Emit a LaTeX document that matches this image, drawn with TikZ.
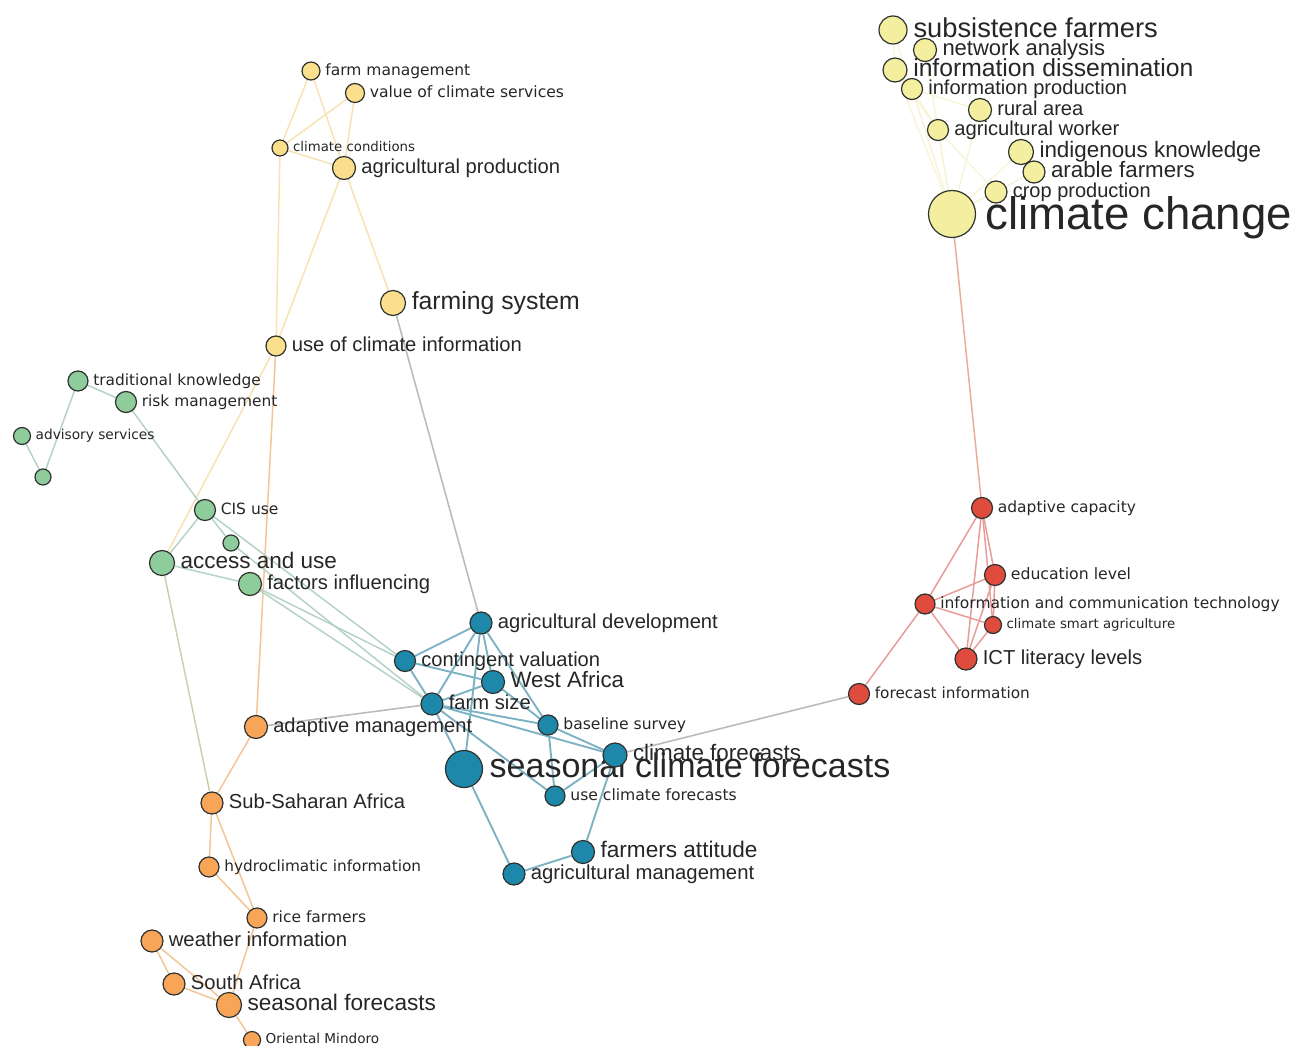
\documentclass[tikz,border=0pt]{standalone}
\usepackage{fontspec}
\setmainfont{Liberation Sans}
\newfontfamily\dvs{DejaVu Sans}
\usetikzlibrary{backgrounds}
\definecolor{cYel}{HTML}{F4EF9E}
\definecolor{cLy}{HTML}{FCDF8C}
\definecolor{cGr}{HTML}{8FCC9B}
\definecolor{cBl}{HTML}{1D88AA}
\definecolor{cOr}{HTML}{F8A557}
\definecolor{cRd}{HTML}{DF4B3D}
\definecolor{cStroke}{HTML}{2E3330}
\definecolor{cText}{HTML}{262626}
\definecolor{ecYel}{HTML}{F7F4D8}
\definecolor{ecLy}{HTML}{F8E2B4}
\definecolor{ecGr}{HTML}{B5D2C5}
\definecolor{ecBl}{HTML}{7DB2C4}
\definecolor{ecOr}{HTML}{F3C597}
\definecolor{ecRd}{HTML}{E79C98}
\definecolor{ecGrey}{HTML}{B9BDBD}
\definecolor{ecCC}{HTML}{E8AE98}
\definecolor{ecAS}{HTML}{D2CCB0}
\tikzset{
  kwnode/.style={circle, draw=cStroke, line width=1.2pt, inner sep=0pt},
  lbl/.style={anchor=west, inner sep=0pt, text=cText},
  eYel/.style={draw=ecYel, line width=1.4pt},
  eLy/.style={draw=ecLy, line width=1.5pt},
  eGr/.style={draw=ecGr, line width=1.5pt},
  eBl/.style={draw=ecBl, line width=1.9pt},
  eOr/.style={draw=ecOr, line width=1.5pt},
  eRd/.style={draw=ecRd, line width=1.5pt},
  eGrey/.style={draw=ecGrey, line width=1.6pt},
  eCC/.style={draw=ecCC, line width=1.5pt},
  eAS/.style={draw=ecAS, line width=1.5pt},
}
% #1 name, #2 fill, #3 x, #4 y, #5 radius, #6 family, #7 size, #8 text
\newcommand\kw[8]{%
  \node[kwnode, fill=#2, minimum size=#5*2pt] (#1) at (#3,#4) {};
  \node[lbl, font=#6\fontsize{#7pt}{#7pt}\selectfont] (#1-l) at ([xshift=3pt+#7*0.1pt]#1.east) {\vphantom{bp}#8};
}
\begin{document}
\begin{tikzpicture}[x=1pt,y=-1pt]
\useasboundingbox (0,0) rectangle (1296,1046);
% ---------- yellow cluster (top right)
\kw{sf}{cYel}{893}{30}{14}{}{27.3}{subsistence farmers}
\kw{na}{cYel}{925}{50}{11.5}{}{22}{network analysis}
\kw{id}{cYel}{895}{70}{12}{}{24.7}{information dissemination}
\kw{ip}{cYel}{912}{89}{10.5}{}{20.1}{information production}
\kw{ra}{cYel}{980}{110}{11.5}{}{20.1}{rural area}
\kw{aw}{cYel}{938}{130}{10.5}{}{20.2}{agricultural worker}
\kw{ik}{cYel}{1021}{152}{12.5}{}{22.4}{indigenous knowledge}
\kw{af}{cYel}{1034}{172}{11}{}{22.3}{arable farmers}
\kw{cp}{cYel}{996}{192}{11}{}{20}{crop production}
\node[kwnode, fill=cYel, minimum size=47pt] (cc) at (952,214) {};
\node[lbl, font=\fontsize{45.6pt}{45.6pt}\selectfont] (cc-l) at ([xshift=9pt,yshift=-4pt]cc.east) {\vphantom{bp}climate change};
% ---------- light yellow cluster
\kw{fm}{cLy}{311}{71}{9}{\dvs}{15.5}{farm management}
\kw{vcs}{cLy}{355}{93}{9.5}{\dvs}{15.6}{value of climate services}
\kw{ccd}{cLy}{280}{148}{8}{\dvs}{13.3}{climate conditions}
\kw{ap}{cLy}{344}{168}{11.5}{}{20.2}{agricultural production}
\kw{fs}{cLy}{393}{303}{12.5}{}{24.8}{farming system}
\kw{uci}{cLy}{276}{346}{10}{}{20.2}{use of climate information}
% ---------- green cluster
\kw{tk}{cGr}{78}{381}{10}{\dvs}{15.4}{traditional knowledge}
\kw{rm}{cGr}{126}{402}{10.5}{\dvs}{15.4}{risk management}
\kw{as}{cGr}{22}{436}{8.5}{\dvs}{13.7}{advisory services}
\node[kwnode, fill=cGr, minimum size=16pt] (g1) at (43,477) {};
\kw{cis}{cGr}{205}{510}{10.5}{\dvs}{15.5}{CIS use}
\node[kwnode, fill=cGr, minimum size=16pt] (g2) at (231,543) {};
\kw{au}{cGr}{162}{563}{12.5}{}{22.5}{access and use}
\kw{fi}{cGr}{250}{584}{11.5}{}{20.2}{factors influencing}
% ---------- blue cluster
\kw{ad}{cBl}{481}{623}{11}{}{20.2}{agricultural development}
\kw{cv}{cBl}{405}{661}{10.5}{}{20.1}{contingent valuation}
\kw{wa}{cBl}{493}{682}{11.5}{}{22.3}{West Africa}
\kw{fz}{cBl}{432}{704}{11}{}{20.2}{farm size}
\kw{bs}{cBl}{548}{725}{10}{\dvs}{15.6}{baseline survey}
\kw{scf}{cBl}{464}{769}{18.5}{}{34}{seasonal climate forecasts}
\kw{cf}{cBl}{615}{755}{12}{}{22.4}{climate forecasts}
\kw{ucf}{cBl}{555}{796}{10}{\dvs}{15.6}{use climate forecasts}
\kw{fa}{cBl}{583}{852}{11.5}{}{22.6}{farmers attitude}
\kw{am}{cBl}{514}{874}{11}{}{20.3}{agricultural management}
% ---------- orange cluster
\kw{adm}{cOr}{256}{727}{11.5}{}{20.1}{adaptive management}
\kw{ssa}{cOr}{212}{803}{11}{}{20.2}{Sub-Saharan Africa}
\kw{hi}{cOr}{209}{867}{10}{\dvs}{15.3}{hydroclimatic information}
\kw{rf}{cOr}{257}{918}{10}{\dvs}{15.5}{rice farmers}
\kw{wi}{cOr}{152}{941}{11}{}{20.3}{weather information}
\kw{sa}{cOr}{174}{984}{11}{}{20.2}{South Africa}
\kw{sfc}{cOr}{229}{1005}{12.5}{}{22.6}{seasonal forecasts}
\kw{om}{cOr}{252}{1040}{8.5}{\dvs}{13.6}{Oriental Mindoro}
% ---------- red cluster
\kw{ac}{cRd}{982}{508}{10.5}{\dvs}{15.5}{adaptive capacity}
\kw{el}{cRd}{995}{575}{10.5}{\dvs}{15.7}{education level}
\kw{ict}{cRd}{925}{604}{10}{\dvs}{15.5}{information and communication technology}
\kw{csa}{cRd}{993}{625}{8.5}{\dvs}{13.3}{climate smart agriculture}
\kw{il}{cRd}{966}{659}{11}{}{20.2}{ICT literacy levels}
\kw{fci}{cRd}{859}{694}{10.5}{\dvs}{15.3}{forecast information}
% ---------- edges
\begin{scope}[on background layer]
% yellow
\draw[eYel] (sf) -- (id);
\draw[eYel] (sf) -- (cc);
\draw[eYel] (na) -- (cc);
\draw[eYel] (id) -- (cc);
\draw[eYel] (id) -- (aw);
\draw[eYel] (ip) -- (cc);
\draw[eYel] (ip) -- (aw);
\draw[eYel] (ip) -- (ra);
\draw[eYel] (ra) -- (cc);
\draw[eYel] (aw) -- (cc);
\draw[eYel] (aw) -- (cp);
\draw[eYel] (ik) -- (cc);
\draw[eYel] (ik) -- (af);
\draw[eYel] (af) -- (cc);
\draw[eYel] (cp) -- (cc);
\draw[eCC] (cc) -- (ac);
% light yellow
\draw[eLy] (fm) -- (ccd);
\draw[eLy] (fm) -- (ap);
\draw[eLy] (vcs) -- (ccd);
\draw[eLy] (vcs) -- (ap);
\draw[eLy] (ccd) -- (ap);
\draw[eLy] (ccd) -- (uci);
\draw[eLy] (ap) -- (uci);
\draw[eLy] (ap) -- (fs);
\draw[eGrey] (fs) -- (ad);
\draw[eLy] (uci) -- (au);
\draw[eOr] (uci) -- (adm);
% green
\draw[eGr] (tk) -- (rm);
\draw[eGr] (tk) -- (g1);
\draw[eGr] (as) -- (g1);
\draw[eGr] (rm) -- (cis);
\draw[eGr] (cis) -- (au);
\draw[eGr] (cis) -- (g2);
\draw[eGr] (g2) -- (fz);
\draw[eGr] (cis) -- (cv);
\draw[eGr] (au) -- (fi);
\draw[eGr] (fi) -- (cv);
\draw[eGr] (fi) -- (fz);
\draw[eAS] (au) -- (ssa);
% blue
\draw[eBl] (ad) -- (cv);
\draw[eBl] (ad) -- (fz);
\draw[eBl] (ad) -- (wa);
\draw[eBl] (ad) -- (scf);
\draw[eBl] (ad) -- (bs);
\draw[eBl] (cv) -- (fz);
\draw[eBl] (cv) -- (wa);
\draw[eBl] (fz) -- (wa);
\draw[eBl] (fz) -- (scf);
\draw[eBl] (fz) -- (bs);
\draw[eBl] (fz) -- (cf);
\draw[eBl] (fz) -- (ucf);
\draw[eBl] (wa) -- (bs);
\draw[eBl] (bs) -- (cf);
\draw[eBl] (bs) -- (ucf);
\draw[eBl] (ucf) -- (cf);
\draw[eBl] (scf) -- (am);
\draw[eBl] (cf) -- (fa);
\draw[eBl] (fa) -- (am);
\draw[eGrey] (fz) -- (adm);
\draw[eGrey] (cf) -- (fci);
% orange
\draw[eOr] (adm) -- (ssa);
\draw[eOr] (ssa) -- (hi);
\draw[eOr] (ssa) -- (rf);
\draw[eOr] (hi) -- (rf);
\draw[eOr] (rf) -- (sfc);
\draw[eOr] (wi) -- (sa);
\draw[eOr] (wi) -- (sfc);
\draw[eOr] (sa) -- (sfc);
\draw[eOr] (sfc) -- (om);
% red
\draw[eRd] (ac) -- (ict);
\draw[eRd] (ict) -- (fci);
\draw[eRd] (ac) -- (el);
\draw[eRd] (ac) -- (csa);
\draw[eRd] (ac) -- (il);
\draw[eRd] (el) -- (ict);
\draw[eRd] (el) -- (il);
\draw[eRd] (el) -- (csa);
\draw[eRd] (ict) -- (csa);
\draw[eRd] (ict) -- (il);
\draw[eRd] (csa) -- (il);
\end{scope}
\end{tikzpicture}
\end{document}
